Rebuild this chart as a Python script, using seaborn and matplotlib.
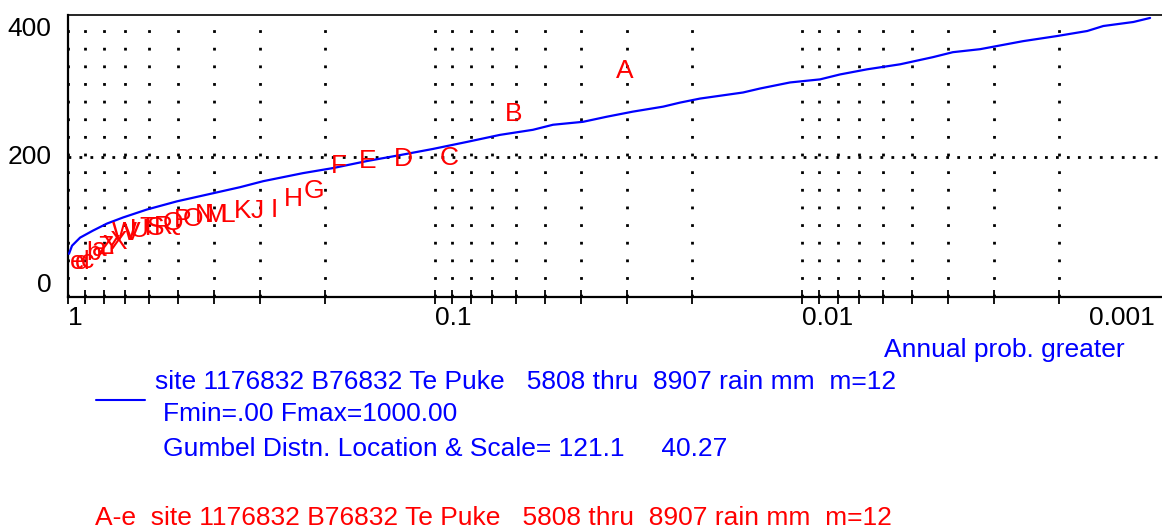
import numpy as np
import pandas as pd
import matplotlib
matplotlib.use("Agg")
import matplotlib.pyplot as plt
import matplotlib.transforms as mtrans
from matplotlib.lines import Line2D
from matplotlib.ticker import FixedLocator, FixedFormatter, NullFormatter
import seaborn as sns

# ---------------- data ----------------
# fitted curve: annual exceedance probability vs rainfall (mm)
curve_prob = [0.9937, 0.975, 0.927, 0.855, 0.783, 0.708, 0.609, 0.505, 0.403,
              0.340, 0.294, 0.229, 0.1897, 0.1532, 0.1245, 0.1013, 0.0818,
              0.0665, 0.0541, 0.0477, 0.0395, 0.0340, 0.0289, 0.0239, 0.0215,
              0.01897, 0.01448, 0.01302, 0.01078, 0.00893, 0.00788, 0.00665,
              0.00540, 0.00440, 0.00388, 0.00327, 0.00250, 0.00202, 0.00167,
              0.00151, 0.00125, 0.001126]
curve_rain = [48.8, 61.4, 74.0, 85.0, 96.0, 105.5, 118.0, 130.7, 143.3,
              152.8, 162.2, 174.8, 182.7, 193.7, 203.0, 212.6, 223.6,
              234.6, 242.5, 250.4, 255.0, 263.0, 270.9, 278.7, 285.0,
              291.3, 300.8, 307.0, 316.5, 321.3, 329.0, 337.0,
              344.9, 356.0, 363.8, 368.5, 381.0, 389.0, 396.9,
              404.7, 411.0, 417.3]

# annual maxima, ranked (A = largest ... e = smallest)
letters = list("ABCDEFGHIJKLMNOPQRSTUVWXYZabcde")
letter_rain = [339, 272, 203, 201, 198, 191, 151, 138, 121, 120, 120,
               114, 114, 114, 107, 106, 101, 95, 93, 93, 90, 86, 85,
               72, 66, 63, 60, 55, 42, 41, 40]

xtick_values = [1, 0.1, 0.01]
xtick_labels = ["1", "0.1", "0.01"]
last_xtick_label = "0.001"
ytick_values = [0, 200, 400]
ytick_labels = ["0", "200", "400"]

legend_line1 = "site 1176832 B76832 Te Puke   5808 thru  8907 rain mm  m=12"
legend_line2 = "Fmin=.00 Fmax=1000.00"
legend_line3 = "Gumbel Distn. Location & Scale= 121.1     40.27"
legend_points = "A-e  site 1176832 B76832 Te Puke   5808 thru  8907 rain mm  m=12"
xlabel = "Annual prob. greater"

# ---------------- style ----------------
sns.set_style("white")
plt.rcParams['font.family'] = ['Liberation Sans', 'DejaVu Sans']
FS = 19
BLUE = "#0000ff"
RED = "#ff0000"

W, H = 1162, 529
fig = plt.figure(figsize=(W / 100, H / 100), dpi=100)
ax = fig.add_axes([68 / W, 1 - 297 / H, (W - 68) / W, 282 / H])

df = pd.DataFrame({"p": curve_prob, "rain": curve_rain})
sns.lineplot(data=df, x="p", y="rain", ax=ax, color=BLUE, linewidth=1.6,
             sort=False, estimator=None, zorder=4)
ax.set_ylabel("")

ax.set_xscale("log")
ax.set_xlim(1, 10 ** (-1094 / 367))
ax.set_ylim(-18.75, 421.9)

# x ticks
minor_vals = []
for k in (1, 2, 3):
    for m in range(2, 10):
        minor_vals.append(m * 10.0 ** (-k))
TICK_LEN = 10
TICK_PAD = 1.5
ax.xaxis.set_major_locator(FixedLocator(xtick_values))
ax.xaxis.set_major_formatter(FixedFormatter(xtick_labels))
ax.xaxis.set_minor_locator(FixedLocator(minor_vals))
ax.xaxis.set_minor_formatter(NullFormatter())
ax.tick_params(axis="x", which="both", direction="inout", length=TICK_LEN,
               width=1.3, color="black", labelsize=FS, pad=TICK_PAD,
               labelcolor="black", bottom=True)
for lab in ax.get_xticklabels():
    lab.set_horizontalalignment("left")
last_trans = mtrans.offset_copy(ax.transAxes, fig=fig, x=0,
                                y=-(TICK_LEN / 2 + TICK_PAD), units="points")
ax.text((1155 - 68) / (W - 68), 0, last_xtick_label, transform=last_trans,
        ha="right", va="top", fontsize=FS, color="black")

# y ticks
ax.set_yticks(ytick_values)
ax.set_yticklabels(ytick_labels)
ax.tick_params(axis="y", length=0, pad=12, labelsize=FS, labelcolor="black")
shift_up = mtrans.ScaledTranslation(0, 2.5 / 100, fig.dpi_scale_trans)
for lab in ax.get_yticklabels():
    lab.set_transform(lab.get_transform() + shift_up)

# grids
ax.grid(True, which="both", axis="x", color="black",
        linestyle=(0, (1, 5.35)), linewidth=2)
ax.grid(False, axis="y")
ax.axhline(200, color="black", linestyle=(0, (1, 2.95)), linewidth=2, zorder=1)

# spines
for s in ("left", "bottom"):
    ax.spines[s].set_linewidth(1.6)
    ax.spines[s].set_color("black")
ax.spines["top"].set_linewidth(1.2)
ax.spines["top"].set_color("black")
ax.spines["right"].set_visible(False)

# letters at Weibull plotting positions
n = len(letters)
ranks = np.arange(1, n + 1)
letter_prob = ranks / (n + 1)
trans = mtrans.offset_copy(ax.transData, fig=fig, x=3, y=-2, units="points")
for lab, p, v in zip(letters, letter_prob, letter_rain):
    ax.text(p, v, lab, color=RED, fontsize=FS, ha="center", va="center",
            transform=trans, zorder=5)

# x label
ax.set_xlabel(xlabel, color=BLUE, fontsize=FS, ha="right", va="center")
ax.xaxis.set_label_coords((1125 - 68) / (W - 68), (297 - 350) / 282)

# legend block
fig.add_artist(Line2D([96 / W, 145 / W], [1 - 400 / H] * 2, color=BLUE,
                      linewidth=1.5, transform=fig.transFigure))
fig.text(155 / W, 1 - 382 / H, legend_line1, color=BLUE, fontsize=FS, va="center")
fig.text(163 / W, 1 - 414 / H, legend_line2, color=BLUE, fontsize=FS, va="center")
fig.text(163 / W, 1 - 449 / H, legend_line3, color=BLUE, fontsize=FS, va="center")
fig.text(95 / W, 1 - 518 / H, legend_points, color=RED, fontsize=FS, va="center")

fig.savefig("out.png", dpi=100)
